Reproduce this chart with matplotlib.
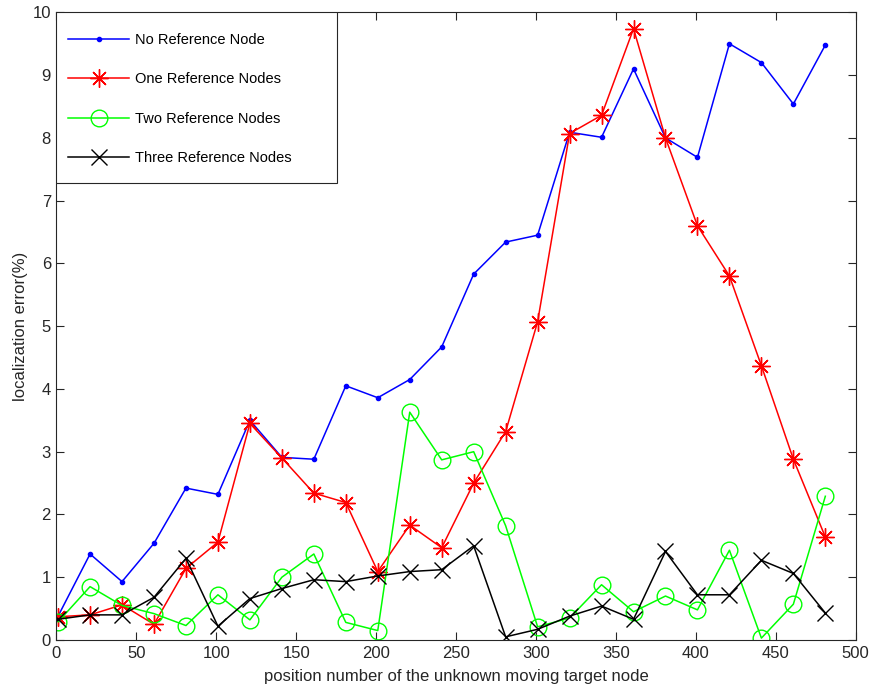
import numpy as np
import matplotlib
matplotlib.use('Agg')
import matplotlib.pyplot as plt
from matplotlib.patches import Rectangle

plt.rcParams['font.family'] = ['Liberation Sans', 'DejaVu Sans']

# target node positions along the track
positions = [1, 21, 41, 61, 81, 101, 121, 141, 161, 181, 201, 221, 241,
             261, 281, 301, 321, 341, 361, 381, 401, 421, 441, 461, 481]

err_none = [0.38, 1.37, 0.93, 1.54, 2.42, 2.32, 3.50, 2.91, 2.88, 4.05, 3.86, 4.15, 4.67,
            5.83, 6.34, 6.45, 8.09, 8.01, 9.10, 8.00, 7.69, 9.50, 9.20, 8.54, 9.48]
err_one = [0.37, 0.40, 0.56, 0.25, 1.14, 1.56, 3.45, 2.90, 2.34, 2.19, 1.09, 1.83, 1.47,
           2.50, 3.32, 5.07, 8.07, 8.36, 9.74, 8.00, 6.60, 5.80, 4.37, 2.88, 1.64]
err_two = [0.29, 0.85, 0.55, 0.42, 0.23, 0.72, 0.32, 1.00, 1.37, 0.28, 0.15, 3.63, 2.87,
           3.00, 1.82, 0.21, 0.35, 0.88, 0.45, 0.70, 0.48, 1.43, 0.03, 0.57, 2.29]
err_three = [0.33, 0.40, 0.40, 0.68, 1.30, 0.22, 0.66, 0.82, 0.96, 0.93, 1.02, 1.09, 1.12,
             1.50, 0.05, 0.17, 0.38, 0.54, 0.33, 1.41, 0.72, 0.72, 1.27, 1.06, 0.43]

labels = ['No Reference Node', 'One Reference Nodes', 'Two Reference Nodes', 'Three Reference Nodes']

fig = plt.figure(figsize=(8.69, 6.88), dpi=100)
ax = fig.add_axes([0.065, 0.0698, 0.9197, 0.9122])

lw = 1.1
ax.plot(positions, err_none, color='b', lw=lw, marker='.', ms=6, label=labels[0])
ax.plot(positions, err_one, color='r', lw=lw, marker=(8, 2, 0), ms=13, mew=1.0, label=labels[1])
ax.plot(positions, err_two, color=(0, 1, 0), lw=lw, marker='o', ms=12, mfc='none', mew=1.0, label=labels[2])
ax.plot(positions, err_three, color='k', lw=lw, marker='x', ms=12, mew=1.0, label=labels[3])

ax.set_xlim(0, 500)
ax.set_ylim(0, 10)
ax.set_xticks(np.arange(0, 501, 50))
ax.set_yticks(np.arange(0, 11, 1))
ax.tick_params(direction='in', length=6, width=0.8, top=True, right=True,
               labelsize=12, color='0.15', labelcolor='0.15', pad=4)
for s in ax.spines.values():
    s.set_color('0.15')
    s.set_linewidth(0.8)

ax.set_xlabel('position number of the unknown moving target node', fontsize=12, color='0.15', labelpad=6)
ax.set_ylabel('localization error(%)', fontsize=12, color='0.15', labelpad=3)

# legend box drawn by hand so the padding can be wider than the entries
box = Rectangle((0, 0.728), 0.3504, 0.272, transform=ax.transAxes, facecolor='white',
                edgecolor='0.15', lw=0.8, zorder=4.5)
ax.add_patch(box)
leg = ax.legend(loc='upper left', bbox_to_anchor=(0.0138, 0.967), frameon=False,
                borderaxespad=0, borderpad=0, fontsize=10.5, handlelength=4.25,
                handletextpad=0.4, labelspacing=1.735)

fig.savefig('out.png', dpi=100)
